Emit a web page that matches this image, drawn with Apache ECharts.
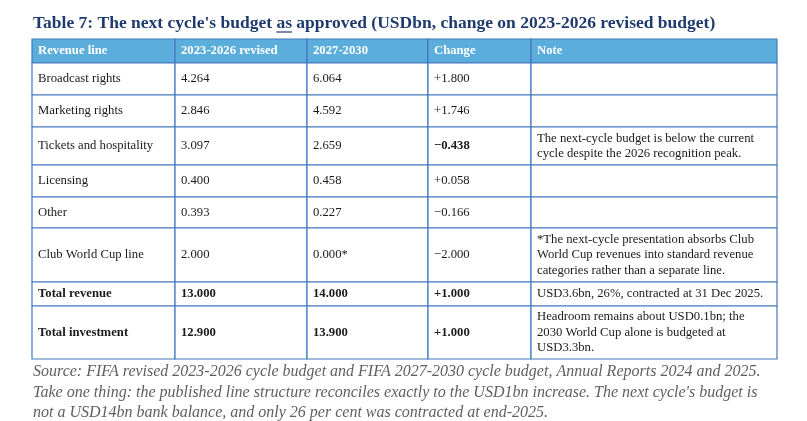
<!DOCTYPE html>
<html>
<head>
<meta charset="utf-8">
<script src="https://cdn.jsdelivr.net/npm/echarts@6/dist/echarts.min.js"></script>
<style>
  html, body { margin: 0; padding: 0; background: #ffffff; }
  #chart { width: 807px; height: 421px; }
</style>
</head>
<body>
<div id="chart"></div>
<script>
// table content
var headers = ['Revenue line', '2023-2026 revised', '2027-2030', 'Change', 'Note'];
var revenueLines = ['Broadcast rights', 'Marketing rights', 'Tickets and hospitality', 'Licensing',
  'Other', 'Club World Cup line', 'Total revenue', 'Total investment'];
var revised = [4.264, 2.846, 3.097, 0.400, 0.393, 2.000, 13.000, 12.900];
var nextCycle = [6.064, 4.592, 2.659, 0.458, 0.227, 0.000, 14.000, 13.900];
var nextMarks = ['', '', '', '', '', '*', '', ''];
var change = [1.800, 1.746, -0.438, 0.058, -0.166, -2.000, 1.000, 1.000];
var notes = [
  '',
  '',
  'The next-cycle budget is below the current\ncycle despite the 2026 recognition peak.',
  '',
  '',
  '*The next-cycle presentation absorbs Club\nWorld Cup revenues into standard revenue\ncategories rather than a separate line.',
  'USD3.6bn, 26%, contracted at 31 Dec 2025.',
  'Headroom remains about USD0.1bn; the\n2030 World Cup alone is budgeted at\nUSD3.3bn.'
];
var titleText = "Table 7: The next cycle's budget as approved (USDbn, change on 2023-2026 revised budget)";
var sourceText = "Source: FIFA revised 2023-2026 cycle budget and FIFA 2027-2030 cycle budget, Annual Reports 2024 and 2025.\n" +
  "Take one thing: the published line structure reconciles exactly to the USD1bn increase. The next cycle's budget is\n" +
  "not a USD14bn bank balance, and only 26 per cent was contracted at end-2025.";

// layout (pixels of the table grid)
var colWidths = [143, 132, 121, 103, 246];
var rowHeights = [24, 32, 32, 38, 32, 31, 54, 24, 53];
var boldRows = [6, 7];
var boldChangeRows = [2];

var serif = '"Liberation Serif", "Times New Roman", serif';
var headerFill = '#5baedb';
var borderColor = '#4479c0';
var titleSize = 17.5;

function fmt(v) { return v.toFixed(3); }
function fmtChange(v) { return (v >= 0 ? '+' : '\u2212') + Math.abs(v).toFixed(3); }

var colEdges = [0];
colWidths.forEach(function (w, i) { colEdges.push(colEdges[i] + w); });
var rowEdges = [0];
rowHeights.forEach(function (h, i) { rowEdges.push(rowEdges[i] + h); });

var cells = [];
function addCell(r, c, text, bold) {
  cells.push({
    value: [colEdges[c], rowEdges[r], colEdges[c + 1], rowEdges[r + 1]],
    text: text, row: r, bold: bold
  });
}
headers.forEach(function (h, c) { addCell(0, c, h, true); });
revenueLines.forEach(function (name, i) {
  var r = i + 1;
  var b = boldRows.indexOf(i) >= 0;
  addCell(r, 0, name, b);
  addCell(r, 1, fmt(revised[i]), b);
  addCell(r, 2, fmt(nextCycle[i]) + nextMarks[i], b);
  addCell(r, 3, fmtChange(change[i]), b || boldChangeRows.indexOf(i) >= 0);
  addCell(r, 4, notes[i], false);
});

// underline position for "as" in the title
var ctx = document.createElement('canvas').getContext('2d');
ctx.font = 'bold ' + titleSize + 'px ' + serif;
var preWidth = ctx.measureText("Table 7: The next cycle's budget ").width;
var asWidth = ctx.measureText('as').width;

var chartDom = document.getElementById('chart');
var myChart = echarts.init(chartDom);
var option;

var tableW = colEdges[colEdges.length - 1];
var tableH = rowEdges[rowEdges.length - 1];

option = {
  animation: false,
  title: {
    text: titleText,
    left: 33,
    top: 14,
    padding: 0,
    textStyle: { fontFamily: serif, fontSize: titleSize, fontWeight: 'bold', color: '#1f3a6e' }
  },
  grid: { left: 32, top: 39, width: tableW, height: tableH },
  xAxis: { type: 'value', min: 0, max: tableW, show: false },
  yAxis: { type: 'value', min: 0, max: tableH, inverse: true, show: false },
  graphic: [
    {
      type: 'line',
      shape: { x1: 33 + preWidth, y1: 32, x2: 33 + preWidth + asWidth, y2: 32 },
      style: { stroke: '#1f3a6e', lineWidth: 1.2 }
    },
    {
      type: 'text',
      left: 33,
      top: 362,
      style: {
        text: sourceText,
        font: 'italic 16px ' + serif,
        fill: '#5f5f5f',
        lineHeight: 20.5
      }
    }
  ],
  series: [
    {
      type: 'custom',
      clip: false,
      data: cells,
      renderItem: function (params, api) {
        var cell = cells[params.dataIndex];
        var p0 = api.coord([api.value(0), api.value(1)]);
        var p1 = api.coord([api.value(2), api.value(3)]);
        var header = cell.row === 0;
        return {
          type: 'group',
          children: [
            {
              type: 'rect',
              shape: { x: p0[0], y: p0[1], width: p1[0] - p0[0], height: p1[1] - p0[1] },
              style: { fill: header ? headerFill : '#ffffff', stroke: borderColor, lineWidth: 1.2 }
            },
            {
              type: 'text',
              style: {
                text: cell.text,
                x: p0[0] + 6,
                y: (p0[1] + p1[1]) / 2,
                verticalAlign: 'middle',
                align: 'left',
                font: (cell.bold ? 'bold ' : '') + '12.7px ' + serif,
                lineHeight: 15.5,
                fill: header ? '#ffffff' : '#1a1a1a'
              }
            }
          ]
        };
      }
    }
  ]
};

option && myChart.setOption(option);
</script>
</body>
</html>
